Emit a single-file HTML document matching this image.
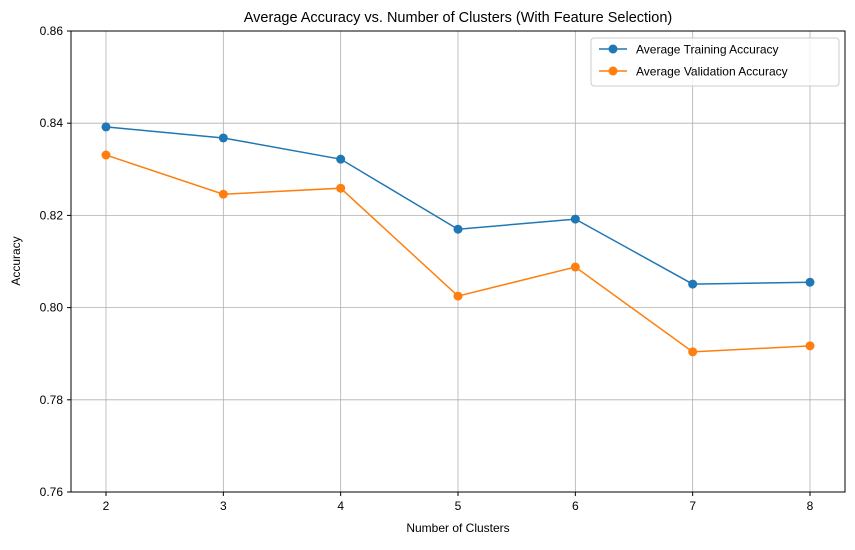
<!DOCTYPE html>
<html><head><meta charset="utf-8"><style>
body{margin:0;background:#fff;}
svg{font-family:"Liberation Sans","DejaVu Sans",sans-serif;}
</style></head><body>
<svg id="chart" width="855" height="545" viewBox="0 0 855 545" xmlns="http://www.w3.org/2000/svg">
<rect width="855" height="545" fill="#fff"/>
<text x="458" y="22" text-anchor="middle" font-size="14.5" fill="#000">Average Accuracy vs. Number of Clusters (With Feature Selection)</text>
<g id="grid"></g>
<g id="axes"></g>
<g id="series"></g>
<rect x="71" y="31" width="774" height="461" fill="none" stroke="#000" stroke-width="1"/>
<text x="458" y="532" text-anchor="middle" font-size="12">Number of Clusters</text>
<text transform="translate(20,261) rotate(-90)" text-anchor="middle" font-size="12">Accuracy</text>
<g>
<rect x="591" y="38" width="248" height="48" fill="#fff" fill-opacity="0.8" stroke="#ccc" rx="3"/>
<g>
<line x1="599" y1="49" x2="627" y2="49" stroke="#1f77b4" stroke-width="1.5"/><circle cx="613" cy="49" r="4.5" fill="#1f77b4"/>
<text x="636" y="53.5" font-size="12">Average Training Accuracy</text></g>
<g>
<line x1="599" y1="71" x2="627" y2="71" stroke="#ff7f0e" stroke-width="1.5"/><circle cx="613" cy="71" r="4.5" fill="#ff7f0e"/>
<text x="636" y="75.5" font-size="12">Average Validation Accuracy</text></g>
</g>
</svg>
<script>
const clusters=[2,3,4,5,6,7,8];
const trainAcc=[0.8392,0.8368,0.8322,0.8170,0.8192,0.8051,0.8055];
const valAcc=[0.8331,0.8246,0.8259,0.8025,0.8088,0.7904,0.7917];
const yTicks=[0.76,0.78,0.80,0.82,0.84,0.86];
const yTickLabels=["0.76","0.78","0.80","0.82","0.84","0.86"];
const NS="http://www.w3.org/2000/svg";
const X0=71,X1=845,Y0=31,Y1=492;
function xs(v){return 106+(v-2)*(810-106)/6;}
function ys(v){return Y1-(v-0.76)/(0.86-0.76)*(Y1-Y0);}
function mk(t,a,p){const e=document.createElementNS(NS,t);for(const k in a)e.setAttribute(k,a[k]);p.appendChild(e);return e;}
const grid=document.getElementById('grid'),axes=document.getElementById('axes'),ser=document.getElementById('series');
clusters.forEach(c=>{
 const g=mk('line',{x1:xs(c),x2:xs(c),y1:Y0,y2:Y1,stroke:'#b0b0b0','stroke-width':0.8},grid);
 
 
 const t=mk('line',{x1:xs(c),x2:xs(c),y1:Y1,y2:Y1+4,stroke:'#000'},axes);
 
 
 const l=mk('text',{x:xs(c),y:Y1+18,'text-anchor':'middle','font-size':12},axes);
 l.textContent=c;
 
 
});
yTicks.forEach((v,i)=>{
 const g=mk('line',{x1:X0,x2:X1,y1:ys(v),y2:ys(v),stroke:'#b0b0b0','stroke-width':0.8},grid);
 
 
 const t=mk('line',{x1:X0-4,x2:X0,y1:ys(v),y2:ys(v),stroke:'#000'},axes);
 
 
 const l=mk('text',{x:X0-8,y:ys(v)+4,'text-anchor':'end','font-size':12},axes);
 l.textContent=yTickLabels[i];
 
 
});
function draw(vals,color,name){
 const pl=mk('polyline',{points:vals.map((v,i)=>xs(clusters[i])+','+ys(v)).join(' '),fill:'none',stroke:color,'stroke-width':1.5},ser);
 
 
 vals.forEach((v,i)=>{
  const c=mk('circle',{cx:xs(clusters[i]),cy:ys(v),r:4.5,fill:color},ser);
  
  
 });
}
draw(trainAcc,'#1f77b4','training');
draw(valAcc,'#ff7f0e','validation');
</script>
</body></html>
